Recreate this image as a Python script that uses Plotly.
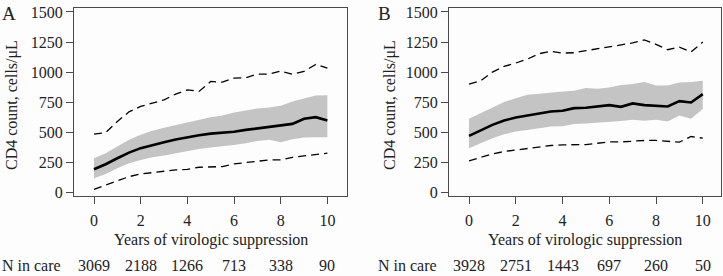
import plotly.graph_objects as go

years = [i * 0.5 for i in range(21)]

# Panel A
a_median = [191, 233, 283, 330, 367, 394, 417, 439, 458, 475, 488, 494, 503, 519, 533, 547, 561, 569, 611, 625, 597]
a_q_low = [117, 152, 200, 242, 269, 291, 305, 325, 347, 361, 372, 380, 394, 408, 427, 436, 417, 442, 455, 458, 458]
a_q_high = [283, 325, 380, 436, 478, 511, 536, 558, 578, 597, 625, 639, 664, 681, 697, 706, 719, 755, 783, 805, 808]
a_p_low = [25, 61, 97, 130, 152, 166, 175, 186, 191, 208, 211, 214, 236, 247, 261, 269, 269, 291, 302, 316, 325]
a_p_high = [483, 497, 589, 669, 714, 741, 769, 817, 852, 839, 922, 916, 950, 953, 983, 983, 1008, 983, 1005, 1064, 1033]

# Panel B
b_median = [469, 514, 561, 597, 622, 639, 658, 672, 678, 700, 703, 711, 725, 711, 739, 725, 722, 714, 758, 747, 817]
b_q_low = [367, 408, 450, 483, 505, 519, 533, 547, 550, 567, 572, 578, 589, 592, 603, 594, 603, 589, 639, 611, 692]
b_q_high = [611, 658, 708, 750, 783, 811, 819, 830, 839, 844, 867, 861, 872, 892, 900, 917, 889, 889, 914, 917, 928]
b_p_low = [261, 292, 319, 339, 353, 367, 381, 389, 394, 397, 397, 408, 419, 419, 428, 431, 431, 422, 417, 464, 450]
b_p_high = [900, 928, 1000, 1047, 1075, 1108, 1153, 1172, 1158, 1161, 1178, 1194, 1208, 1225, 1242, 1267, 1231, 1186, 1208, 1167, 1250]

n_years = [0, 2, 4, 6, 8, 10]
a_n = ["3069", "2188", "1266", "713", "338", "90"]
b_n = ["3928", "2751", "1443", "697", "260", "50"]

panel_labels = ["A", "B"]
x_title = "Years of virologic suppression"
y_title = "CD4 count, cells/μL"
n_label = "N in care"

FONT = "Liberation Serif"
TXT = "#222222"
AX = "#4a4a4a"
BAND = "#c4c4c4"

fig = go.Figure()

panels = [
    ("x", "y", a_median, a_q_low, a_q_high, a_p_low, a_p_high),
    ("x2", "y2", b_median, b_q_low, b_q_high, b_p_low, b_p_high),
]
for xa, ya, med, ql, qh, pl, ph in panels:
    fig.add_trace(go.Scatter(x=years, y=ql, mode="lines", line=dict(width=0, color=BAND),
                             xaxis=xa, yaxis=ya, showlegend=False, hoverinfo="skip"))
    fig.add_trace(go.Scatter(x=years, y=qh, mode="lines", line=dict(width=0, color=BAND),
                             fill="tonexty", fillcolor=BAND,
                             xaxis=xa, yaxis=ya, showlegend=False, hoverinfo="skip"))
    for arr in (pl, ph):
        fig.add_trace(go.Scatter(x=years, y=arr, mode="lines",
                                 line=dict(width=1.3, color="black", dash="8px,5px"),
                                 xaxis=xa, yaxis=ya, showlegend=False))
    fig.add_trace(go.Scatter(x=years, y=med, mode="lines",
                             line=dict(width=2.6, color="black"),
                             xaxis=xa, yaxis=ya, showlegend=False))

W, H = 723, 276
dA = [74 / W, 347 / W]
dB = [449 / W, 721 / W]

axis_common = dict(showline=True, linecolor=AX, linewidth=1.3, mirror=True,
                   ticks="outside", ticklen=7, tickwidth=1.3, tickcolor=AX,
                   showgrid=False, zeroline=False,
                   tickfont=dict(family=FONT, size=16, color=TXT))

xcommon = dict(axis_common, range=[-0.857, 10.84], tickvals=n_years, ticklabelstandoff=3)
ycommon = dict(axis_common, range=[-31, 1533], tickvals=[0, 250, 500, 750, 1000, 1250, 1500])

fig.update_layout(
    width=W, height=H,
    margin=dict(l=0, r=0, t=8, b=80),
    paper_bgcolor="#fdfdfd", plot_bgcolor="#fdfdfd",
    xaxis=dict(xcommon, domain=dA, anchor="y"),
    yaxis=dict(ycommon, domain=[0, 1], anchor="x"),
    xaxis2=dict(xcommon, domain=dB, anchor="y2", range=[-0.857, 10.78]),
    yaxis2=dict(ycommon, domain=[0, 1], anchor="x2"),
)

ann = []
for lbl, lx in [(panel_labels[0], 9), (panel_labels[1], 384)]:
    ann.append(dict(text=lbl, x=lx / W, y=1 - (14 - 8) / 188, xref="paper", yref="paper",
                    xanchor="center", yanchor="middle", showarrow=False,
                    font=dict(family=FONT, size=19, color=TXT)))
# y titles
for cx in [12, 390]:
    ann.append(dict(text=y_title, x=cx / W, y=(196 - 105) / 188, xref="paper", yref="paper",
                    xanchor="center", yanchor="middle", textangle=-90, showarrow=False,
                    font=dict(family=FONT, size=16, color=TXT)))
# x titles
for cx in [(74 + 347) / 2, (449 + 721) / 2]:
    ann.append(dict(text=x_title, x=cx / W, y=(196 - 240) / 188, xref="paper", yref="paper",
                    xanchor="center", yanchor="middle", showarrow=False,
                    font=dict(family=FONT, size=16, color=TXT)))
# N in care row
ny = (196 - 265) / 188
ann.append(dict(text=n_label, x=0, y=ny, xref="paper", yref="paper", xanchor="left",
                yanchor="middle", showarrow=False, font=dict(family=FONT, size=16, color=TXT)))
ann.append(dict(text=n_label, x=376 / W, y=ny, xref="paper", yref="paper", xanchor="left",
                yanchor="middle", showarrow=False, font=dict(family=FONT, size=16, color=TXT)))
for xr, vals in [("x", a_n), ("x2", b_n)]:
    for xv, t in zip(n_years, vals):
        ann.append(dict(text=t, x=xv, y=ny, xref=xr, yref="paper", xanchor="center",
                        yanchor="middle", showarrow=False,
                        font=dict(family=FONT, size=16, color=TXT)))
fig.update_layout(annotations=ann)

fig.write_html("out.html", config={"displayModeBar": False},
               post_script="document.body.style.margin='0';document.body.style.overflow='hidden';")
